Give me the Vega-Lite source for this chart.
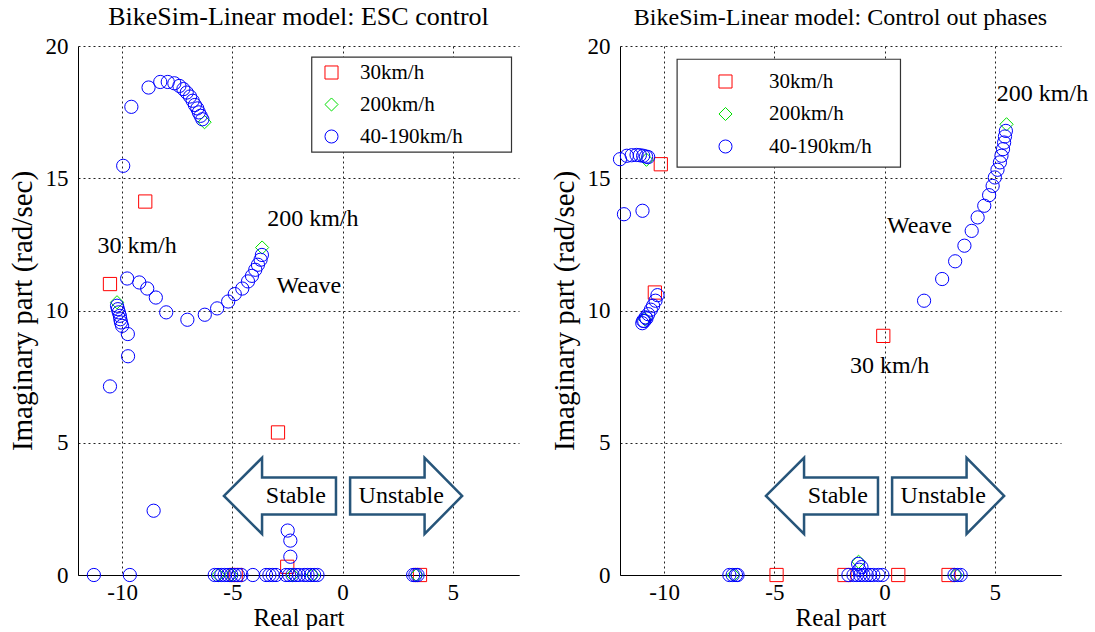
{
  "$schema": "https://vega.github.io/schema/vega-lite/v6.json",
  "background": "white",
  "padding": {"left": 8, "top": 4, "right": 0, "bottom": 0},
  "spacing": 31,
  "config": {
    "font": "Liberation Serif",
    "view": {"stroke": null},
    "title": {"font": "Liberation Serif", "fontSize": 26, "fontWeight": "normal", "color": "#000", "anchor": "middle", "offset": 5},
    "axis": {
      "grid": true, "gridDash": [2, 3], "gridColor": "#222", "gridOpacity": 1, "gridWidth": 1,
      "domainColor": "#000", "domainWidth": 1, "ticks": false,
      "labelFont": "Liberation Serif", "labelFontSize": 23, "labelColor": "#000",
      "titleFont": "Liberation Serif", "titleFontWeight": "normal", "titleColor": "#000", "titleFontSize": 25
    }
  },
  "datasets": {
    "esc": [
      {"re": -10.55, "im": 11.0, "speed": "30km/h"},
      {"re": -8.95, "im": 14.12, "speed": "30km/h"},
      {"re": -2.93, "im": 5.39, "speed": "30km/h"},
      {"re": -2.51, "im": 0.31, "speed": "30km/h"},
      {"re": -4.85, "im": 0, "speed": "30km/h"},
      {"re": 3.51, "im": 0, "speed": "30km/h"},
      {"re": -6.26, "im": 17.12, "speed": "200km/h"},
      {"re": -3.65, "im": 12.38, "speed": "200km/h"},
      {"re": -10.23, "im": 10.31, "speed": "200km/h"},
      {"re": -5.64, "im": 0, "speed": "200km/h"},
      {"re": -5.05, "im": 0, "speed": "200km/h"},
      {"re": -2.27, "im": 0, "speed": "200km/h"},
      {"re": -1.36, "im": 0, "speed": "200km/h"},
      {"re": 3.36, "im": 0, "speed": "200km/h"},
      {"re": -9.95, "im": 15.47, "speed": "40-190km/h"},
      {"re": -9.58, "im": 17.70, "speed": "40-190km/h"},
      {"re": -8.80, "im": 18.43, "speed": "40-190km/h"},
      {"re": -8.27, "im": 18.64, "speed": "40-190km/h"},
      {"re": -7.93, "im": 18.64, "speed": "40-190km/h"},
      {"re": -7.63, "im": 18.59, "speed": "40-190km/h"},
      {"re": -7.40, "im": 18.49, "speed": "40-190km/h"},
      {"re": -7.22, "im": 18.37, "speed": "40-190km/h"},
      {"re": -7.07, "im": 18.24, "speed": "40-190km/h"},
      {"re": -6.92, "im": 18.09, "speed": "40-190km/h"},
      {"re": -6.80, "im": 17.93, "speed": "40-190km/h"},
      {"re": -6.70, "im": 17.77, "speed": "40-190km/h"},
      {"re": -6.59, "im": 17.64, "speed": "40-190km/h"},
      {"re": -6.52, "im": 17.49, "speed": "40-190km/h"},
      {"re": -6.44, "im": 17.36, "speed": "40-190km/h"},
      {"re": -6.36, "im": 17.23, "speed": "40-190km/h"},
      {"re": -9.77, "im": 11.21, "speed": "40-190km/h"},
      {"re": -9.22, "im": 11.06, "speed": "40-190km/h"},
      {"re": -8.86, "im": 10.83, "speed": "40-190km/h"},
      {"re": -8.47, "im": 10.49, "speed": "40-190km/h"},
      {"re": -8.00, "im": 9.93, "speed": "40-190km/h"},
      {"re": -7.04, "im": 9.65, "speed": "40-190km/h"},
      {"re": -6.25, "im": 9.84, "speed": "40-190km/h"},
      {"re": -5.69, "im": 10.08, "speed": "40-190km/h"},
      {"re": -5.19, "im": 10.34, "speed": "40-190km/h"},
      {"re": -4.89, "im": 10.62, "speed": "40-190km/h"},
      {"re": -4.55, "im": 10.83, "speed": "40-190km/h"},
      {"re": -4.29, "im": 11.10, "speed": "40-190km/h"},
      {"re": -4.11, "im": 11.31, "speed": "40-190km/h"},
      {"re": -3.96, "im": 11.54, "speed": "40-190km/h"},
      {"re": -3.84, "im": 11.73, "speed": "40-190km/h"},
      {"re": -3.72, "im": 11.92, "speed": "40-190km/h"},
      {"re": -3.66, "im": 12.10, "speed": "40-190km/h"},
      {"re": -10.23, "im": 10.18, "speed": "40-190km/h"},
      {"re": -10.19, "im": 10.05, "speed": "40-190km/h"},
      {"re": -10.15, "im": 9.93, "speed": "40-190km/h"},
      {"re": -10.10, "im": 9.80, "speed": "40-190km/h"},
      {"re": -10.08, "im": 9.67, "speed": "40-190km/h"},
      {"re": -10.05, "im": 9.55, "speed": "40-190km/h"},
      {"re": -10.00, "im": 9.42, "speed": "40-190km/h"},
      {"re": -9.74, "im": 9.11, "speed": "40-190km/h"},
      {"re": -9.73, "im": 8.27, "speed": "40-190km/h"},
      {"re": -10.55, "im": 7.13, "speed": "40-190km/h"},
      {"re": -8.57, "im": 2.43, "speed": "40-190km/h"},
      {"re": -2.49, "im": 1.68, "speed": "40-190km/h"},
      {"re": -2.37, "im": 1.30, "speed": "40-190km/h"},
      {"re": -2.37, "im": 0.69, "speed": "40-190km/h"},
      {"re": -11.28, "im": 0, "speed": "40-190km/h"},
      {"re": -9.65, "im": 0, "speed": "40-190km/h"},
      {"re": -5.80, "im": 0, "speed": "40-190km/h"},
      {"re": -5.65, "im": 0, "speed": "40-190km/h"},
      {"re": -5.50, "im": 0, "speed": "40-190km/h"},
      {"re": -5.35, "im": 0, "speed": "40-190km/h"},
      {"re": -5.20, "im": 0, "speed": "40-190km/h"},
      {"re": -5.05, "im": 0, "speed": "40-190km/h"},
      {"re": -4.90, "im": 0, "speed": "40-190km/h"},
      {"re": -4.75, "im": 0, "speed": "40-190km/h"},
      {"re": -4.59, "im": 0, "speed": "40-190km/h"},
      {"re": -4.07, "im": 0, "speed": "40-190km/h"},
      {"re": -3.47, "im": 0, "speed": "40-190km/h"},
      {"re": -3.32, "im": 0, "speed": "40-190km/h"},
      {"re": -3.17, "im": 0, "speed": "40-190km/h"},
      {"re": -3.02, "im": 0, "speed": "40-190km/h"},
      {"re": -2.57, "im": 0, "speed": "40-190km/h"},
      {"re": -2.42, "im": 0, "speed": "40-190km/h"},
      {"re": -2.27, "im": 0, "speed": "40-190km/h"},
      {"re": -2.12, "im": 0, "speed": "40-190km/h"},
      {"re": -1.97, "im": 0, "speed": "40-190km/h"},
      {"re": -1.74, "im": 0, "speed": "40-190km/h"},
      {"re": -1.59, "im": 0, "speed": "40-190km/h"},
      {"re": -1.44, "im": 0, "speed": "40-190km/h"},
      {"re": -1.29, "im": 0, "speed": "40-190km/h"},
      {"re": -1.14, "im": 0, "speed": "40-190km/h"},
      {"re": 3.20, "im": 0, "speed": "40-190km/h"},
      {"re": 3.30, "im": 0, "speed": "40-190km/h"},
      {"re": 3.40, "im": 0, "speed": "40-190km/h"}
    ],
    "cop": [
      {"re": -10.15, "im": 15.53, "speed": "30km/h"},
      {"re": -10.42, "im": 10.68, "speed": "30km/h"},
      {"re": -0.06, "im": 9.04, "speed": "30km/h"},
      {"re": -4.90, "im": 0, "speed": "30km/h"},
      {"re": -1.82, "im": 0, "speed": "30km/h"},
      {"re": 0.62, "im": 0, "speed": "30km/h"},
      {"re": 2.90, "im": 0, "speed": "30km/h"},
      {"re": 5.53, "im": 17.04, "speed": "200km/h"},
      {"re": -10.80, "im": 15.70, "speed": "200km/h"},
      {"re": -10.87, "im": 9.67, "speed": "200km/h"},
      {"re": -6.86, "im": 0, "speed": "200km/h"},
      {"re": -1.18, "im": 0.5, "speed": "200km/h"},
      {"re": 3.24, "im": 0, "speed": "200km/h"},
      {"re": -12.00, "im": 15.72, "speed": "40-190km/h"},
      {"re": -11.69, "im": 15.85, "speed": "40-190km/h"},
      {"re": -11.47, "im": 15.87, "speed": "40-190km/h"},
      {"re": -11.25, "im": 15.88, "speed": "40-190km/h"},
      {"re": -11.10, "im": 15.87, "speed": "40-190km/h"},
      {"re": -10.95, "im": 15.85, "speed": "40-190km/h"},
      {"re": -10.82, "im": 15.82, "speed": "40-190km/h"},
      {"re": -10.72, "im": 15.80, "speed": "40-190km/h"},
      {"re": -11.82, "im": 13.64, "speed": "40-190km/h"},
      {"re": -10.98, "im": 13.77, "speed": "40-190km/h"},
      {"re": -10.30, "im": 10.58, "speed": "40-190km/h"},
      {"re": -10.39, "im": 10.37, "speed": "40-190km/h"},
      {"re": -10.50, "im": 10.18, "speed": "40-190km/h"},
      {"re": -10.60, "im": 10.03, "speed": "40-190km/h"},
      {"re": -10.72, "im": 9.86, "speed": "40-190km/h"},
      {"re": -10.84, "im": 9.74, "speed": "40-190km/h"},
      {"re": -10.95, "im": 9.61, "speed": "40-190km/h"},
      {"re": -10.99, "im": 9.52, "speed": "40-190km/h"},
      {"re": -10.90, "im": 9.60, "speed": "40-190km/h"},
      {"re": -10.80, "im": 9.70, "speed": "40-190km/h"},
      {"re": 1.79, "im": 10.37, "speed": "40-190km/h"},
      {"re": 2.61, "im": 11.19, "speed": "40-190km/h"},
      {"re": 3.20, "im": 11.86, "speed": "40-190km/h"},
      {"re": 3.62, "im": 12.45, "speed": "40-190km/h"},
      {"re": 3.95, "im": 13.01, "speed": "40-190km/h"},
      {"re": 4.22, "im": 13.52, "speed": "40-190km/h"},
      {"re": 4.52, "im": 13.96, "speed": "40-190km/h"},
      {"re": 4.74, "im": 14.36, "speed": "40-190km/h"},
      {"re": 4.90, "im": 14.71, "speed": "40-190km/h"},
      {"re": 5.00, "im": 15.03, "speed": "40-190km/h"},
      {"re": 5.12, "im": 15.32, "speed": "40-190km/h"},
      {"re": 5.23, "im": 15.60, "speed": "40-190km/h"},
      {"re": 5.30, "im": 15.85, "speed": "40-190km/h"},
      {"re": 5.37, "im": 16.10, "speed": "40-190km/h"},
      {"re": 5.42, "im": 16.35, "speed": "40-190km/h"},
      {"re": 5.46, "im": 16.58, "speed": "40-190km/h"},
      {"re": 5.50, "im": 16.79, "speed": "40-190km/h"},
      {"re": -7.04, "im": 0, "speed": "40-190km/h"},
      {"re": -6.89, "im": 0, "speed": "40-190km/h"},
      {"re": -6.74, "im": 0, "speed": "40-190km/h"},
      {"re": -6.67, "im": 0, "speed": "40-190km/h"},
      {"re": -1.64, "im": 0, "speed": "40-190km/h"},
      {"re": -1.41, "im": 0, "speed": "40-190km/h"},
      {"re": -1.26, "im": 0, "speed": "40-190km/h"},
      {"re": -1.11, "im": 0, "speed": "40-190km/h"},
      {"re": -0.96, "im": 0, "speed": "40-190km/h"},
      {"re": -0.81, "im": 0, "speed": "40-190km/h"},
      {"re": -0.66, "im": 0, "speed": "40-190km/h"},
      {"re": -0.51, "im": 0, "speed": "40-190km/h"},
      {"re": -0.28, "im": 0, "speed": "40-190km/h"},
      {"re": -0.10, "im": 0, "speed": "40-190km/h"},
      {"re": -1.20, "im": 0.42, "speed": "40-190km/h"},
      {"re": -1.05, "im": 0.30, "speed": "40-190km/h"},
      {"re": -1.15, "im": 0.20, "speed": "40-190km/h"},
      {"re": 3.17, "im": 0, "speed": "40-190km/h"},
      {"re": 3.30, "im": 0, "speed": "40-190km/h"},
      {"re": 3.45, "im": 0, "speed": "40-190km/h"}
    ],
    "escNotes": [
      {"re": -9.32, "im": 12.43, "label": "30 km/h"},
      {"re": -1.35, "im": 13.45, "label": "200 km/h"},
      {"re": -1.53, "im": 10.92, "label": "Weave"},
      {"re": -2.12, "im": 3.0, "label": "Stable"},
      {"re": 2.66, "im": 3.0, "label": "Unstable"}
    ],
    "copNotes": [
      {"re": 7.16, "im": 18.18, "label": "200 km/h"},
      {"re": 1.58, "im": 13.2, "label": "Weave"},
      {"re": 0.23, "im": 7.9, "label": "30 km/h"},
      {"re": -2.12, "im": 3.0, "label": "Stable"},
      {"re": 2.66, "im": 3.0, "label": "Unstable"}
    ],
    "arrows": [
      {"re": -2.84, "im": 2.99, "dir": "left"},
      {"re": 2.88, "im": 2.99, "dir": "right"}
    ],
    "escFrame": [{"x1": -1.40, "x2": 7.66, "y1": 19.58, "y2": 15.99}],
    "copFrame": [{"x1": -9.41, "x2": 0.72, "y1": 19.50, "y2": 15.42}]
  },
  "resolve": {"scale": {"color": "independent", "shape": "independent"}, "legend": {"color": "independent", "shape": "independent"}},
  "hconcat": [
    {
      "title": {"text": "BikeSim-Linear model: ESC control", "fontSize": 26},
      "width": 441,
      "height": 529,
      "layer": [
        {
          "data": {"name": "escFrame"},
          "mark": {"type": "rect", "fill": "white", "stroke": "#333", "strokeWidth": 1.2},
          "encoding": {
            "x": {"field": "x1", "type": "quantitative", "scale": {"domain": [-12, 8], "nice": false, "zero": false}, "axis": {"values": [-10, -5, 0, 5], "title": "Real part", "labelExpr": "'' + datum.value", "labelPadding": 6, "titlePadding": 1}},
            "x2": {"field": "x2"},
            "y": {"field": "y1", "type": "quantitative", "scale": {"domain": [0, 20], "nice": false}, "axis": {"values": [0, 5, 10, 15, 20], "title": "Imaginary part (rad/sec)", "titleFontSize": 29, "labelPadding": 10, "titlePadding": 8}},
            "y2": {"field": "y2"}
          }
        },
        {
          "data": {"name": "arrows"},
          "transform": [{"filter": "datum.dir == 'left'"}],
          "mark": {"type": "point", "shape": "M-1,0L-0.32,-0.68L-0.32,-0.33L1,-0.33L1,0.33L-0.32,0.33L-0.32,0.68Z", "filled": false, "fill": "white", "fillOpacity": 1, "stroke": "#27557a", "strokeWidth": 2.5, "size": 12544, "opacity": 1},
          "encoding": {
            "x": {"field": "re", "type": "quantitative"},
            "y": {"field": "im", "type": "quantitative"}
          }
        },
        {
          "data": {"name": "arrows"},
          "transform": [{"filter": "datum.dir == 'right'"}],
          "mark": {"type": "point", "shape": "M1,0L0.33,-0.68L0.33,-0.33L-1,-0.33L-1,0.33L0.33,0.33L0.33,0.68Z", "filled": false, "fill": "white", "fillOpacity": 1, "stroke": "#27557a", "strokeWidth": 2.5, "size": 12544, "opacity": 1},
          "encoding": {
            "x": {"field": "re", "type": "quantitative"},
            "y": {"field": "im", "type": "quantitative"}
          }
        },
        {
          "data": {"name": "escNotes"},
          "mark": {"type": "text", "font": "Liberation Serif", "fontSize": 24, "color": "#000", "baseline": "middle", "align": "center"},
          "encoding": {
            "x": {"field": "re", "type": "quantitative"},
            "y": {"field": "im", "type": "quantitative"},
            "text": {"field": "label"}
          }
        },
        {
          "data": {"name": "esc"},
          "mark": {"type": "point", "filled": false, "size": 175, "strokeWidth": 1, "opacity": 1},
          "encoding": {
            "x": {"field": "re", "type": "quantitative"},
            "y": {"field": "im", "type": "quantitative"},
            "color": {"field": "speed", "type": "nominal", "scale": {"domain": ["30km/h", "200km/h", "40-190km/h"], "range": ["#ff0000", "#00e000", "#0000ff"]},
              "legend": {"title": null, "orient": "none", "legendX": 237, "legendY": 16, "padding": 0, "symbolOffset": 6, "labelOffset": 18, "rowPadding": 10, "labelFont": "Liberation Serif", "labelFontSize": 21, "labelColor": "#000", "symbolSize": 170, "symbolStrokeWidth": 1}},
            "shape": {"field": "speed", "type": "nominal", "scale": {"domain": ["30km/h", "200km/h", "40-190km/h"], "range": ["square", "diamond", "circle"]},
              "legend": {"title": null, "orient": "none", "legendX": 237, "legendY": 16, "padding": 0, "symbolOffset": 6, "labelOffset": 18, "rowPadding": 10, "labelFont": "Liberation Serif", "labelFontSize": 21, "labelColor": "#000", "symbolSize": 170, "symbolStrokeWidth": 1}}
          }
        }
      ]
    },
    {
      "title": {"text": "BikeSim-Linear model: Control out phases", "fontSize": 24},
      "width": 441,
      "height": 529,
      "layer": [
        {
          "data": {"name": "copFrame"},
          "mark": {"type": "rect", "fill": "white", "stroke": "#333", "strokeWidth": 1.2},
          "encoding": {
            "x": {"field": "x1", "type": "quantitative", "scale": {"domain": [-12, 8], "nice": false, "zero": false}, "axis": {"values": [-10, -5, 0, 5], "title": "Real part", "labelExpr": "'' + datum.value", "labelPadding": 6, "titlePadding": 1}},
            "x2": {"field": "x2"},
            "y": {"field": "y1", "type": "quantitative", "scale": {"domain": [0, 20], "nice": false}, "axis": {"values": [0, 5, 10, 15, 20], "title": "Imaginary part (rad/sec)", "titleFontSize": 29, "labelPadding": 10, "titlePadding": 8}},
            "y2": {"field": "y2"}
          }
        },
        {
          "data": {"name": "arrows"},
          "transform": [{"filter": "datum.dir == 'left'"}],
          "mark": {"type": "point", "shape": "M-1,0L-0.32,-0.68L-0.32,-0.33L1,-0.33L1,0.33L-0.32,0.33L-0.32,0.68Z", "filled": false, "fill": "white", "fillOpacity": 1, "stroke": "#27557a", "strokeWidth": 2.5, "size": 12544, "opacity": 1},
          "encoding": {
            "x": {"field": "re", "type": "quantitative"},
            "y": {"field": "im", "type": "quantitative"}
          }
        },
        {
          "data": {"name": "arrows"},
          "transform": [{"filter": "datum.dir == 'right'"}],
          "mark": {"type": "point", "shape": "M1,0L0.33,-0.68L0.33,-0.33L-1,-0.33L-1,0.33L0.33,0.33L0.33,0.68Z", "filled": false, "fill": "white", "fillOpacity": 1, "stroke": "#27557a", "strokeWidth": 2.5, "size": 12544, "opacity": 1},
          "encoding": {
            "x": {"field": "re", "type": "quantitative"},
            "y": {"field": "im", "type": "quantitative"}
          }
        },
        {
          "data": {"name": "copNotes"},
          "mark": {"type": "text", "font": "Liberation Serif", "fontSize": 24, "color": "#000", "baseline": "middle", "align": "center"},
          "encoding": {
            "x": {"field": "re", "type": "quantitative"},
            "y": {"field": "im", "type": "quantitative"},
            "text": {"field": "label"}
          }
        },
        {
          "data": {"name": "cop"},
          "mark": {"type": "point", "filled": false, "size": 175, "strokeWidth": 1, "opacity": 1},
          "encoding": {
            "x": {"field": "re", "type": "quantitative"},
            "y": {"field": "im", "type": "quantitative"},
            "color": {"field": "speed", "type": "nominal", "scale": {"domain": ["30km/h", "200km/h", "40-190km/h"], "range": ["#ff0000", "#00e000", "#0000ff"]},
              "legend": {"title": null, "orient": "none", "legendX": 66, "legendY": 25, "padding": 0, "symbolOffset": 29, "labelOffset": 33, "rowPadding": 10.5, "labelFont": "Liberation Serif", "labelFontSize": 21, "labelColor": "#000", "symbolSize": 170, "symbolStrokeWidth": 1}},
            "shape": {"field": "speed", "type": "nominal", "scale": {"domain": ["30km/h", "200km/h", "40-190km/h"], "range": ["square", "diamond", "circle"]},
              "legend": {"title": null, "orient": "none", "legendX": 66, "legendY": 25, "padding": 0, "symbolOffset": 29, "labelOffset": 33, "rowPadding": 10.5, "labelFont": "Liberation Serif", "labelFontSize": 21, "labelColor": "#000", "symbolSize": 170, "symbolStrokeWidth": 1}}
          }
        }
      ]
    }
  ]
}
